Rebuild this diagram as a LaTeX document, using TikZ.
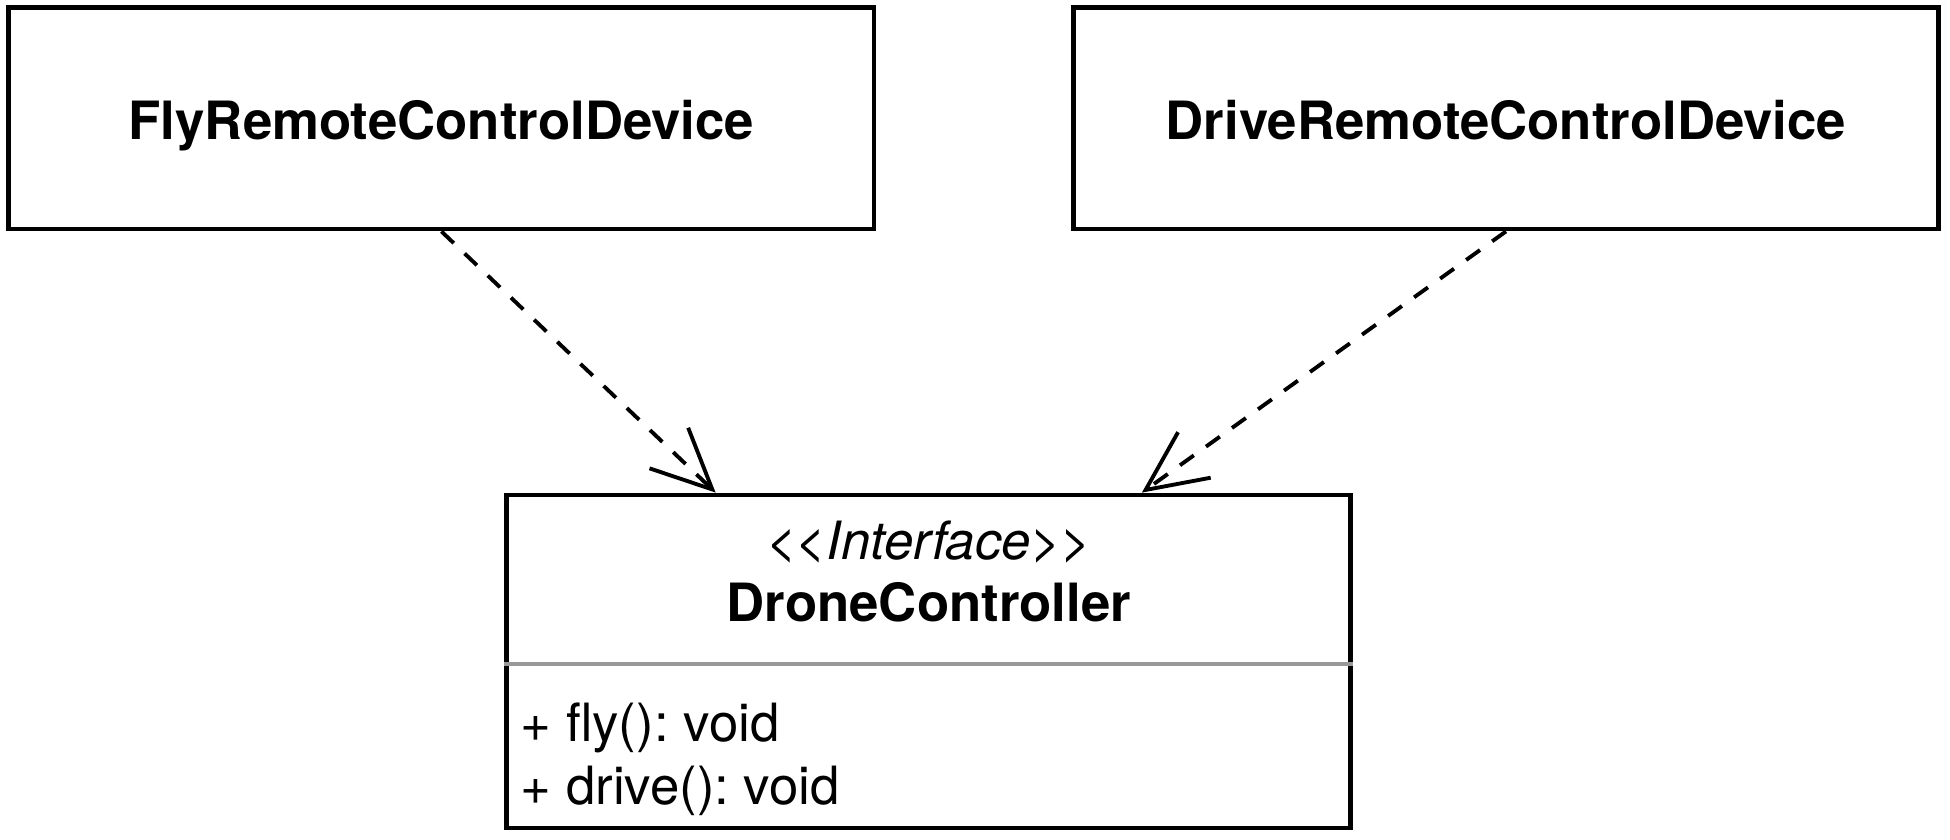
\documentclass[tikz,border=0pt]{standalone}
\usepackage{fontspec}
\setmainfont{TeX Gyre Heros}
\usetikzlibrary{arrows.meta, positioning}

\tikzset{
  classbox/.style={draw, line width=1.3pt, inner sep=0pt},
  classtitle/.style={font=\fontsize{15}{18}\selectfont\bfseries},
  realize/.style={draw, line width=1.1pt, dash pattern=on 0.17cm off 0.15cm,
    -{Straight Barb[length=0.6cm, width=0.56cm, line width=1.1pt]}},
}

\begin{document}
\frenchspacing
\begin{tikzpicture}[x=0.01cm, y=-0.01cm, font=\fontsize{15}{18}\selectfont]
\useasboundingbox (0,0) rectangle (1950,840);

% the two remote control devices
\node[classbox, classtitle, minimum width=8.65cm, minimum height=2.215cm,
      text height=0.52cm, text depth=0.1cm] (fly) at (441.4,118.3) {FlyRemoteControlDevice};
\node[classbox, classtitle, minimum width=8.65cm, minimum height=2.215cm,
      text height=0.52cm, text depth=0.1cm] (drive) at (1506,118.3) {DriveRemoteControlDevice};

% the interface
\node[classbox, minimum width=8.435cm, minimum height=3.33cm] (ctrl) at (928.75,661.5) {};
\node[anchor=base, font=\fontsize{15}{18}\selectfont\itshape] (stereo) at (928.75,560)
  {<\kern-0.3pt<Interface>\kern-0.3pt>};
\node[anchor=base, classtitle] (ctrlname) at (928.75,622) {DroneController};
\coordinate (sep) at (0,664);
\draw[black!40, line width=1.3pt] (ctrl.west |- sep) -- (ctrl.east |- sep);
\node[anchor=base west, inner sep=0pt] (opfly) at (520,742) {+ fly(): void};
\node[anchor=base west, inner sep=0pt] (opdrive) at (520,805) {+ drive(): void};

% realizations
\draw[realize] (fly.south) -- ([xshift=-2.13cm]ctrl.north);
\draw[realize] (drive.south) -- ([xshift=2.13cm]ctrl.north);
\end{tikzpicture}
\end{document}
